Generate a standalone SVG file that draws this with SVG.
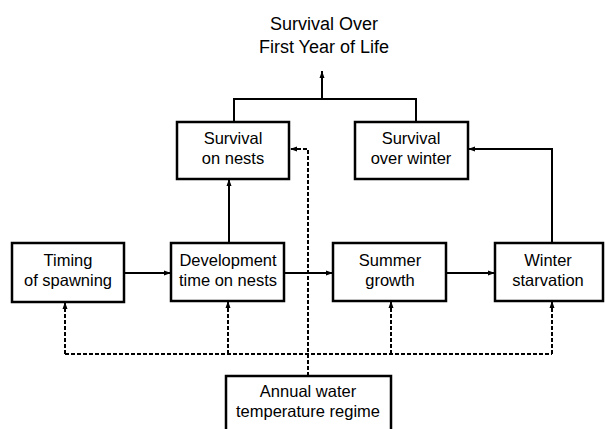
<svg xmlns="http://www.w3.org/2000/svg" width="605" height="429" viewBox="0 0 605 429">
<defs>
<marker id="ah" markerUnits="userSpaceOnUse" markerWidth="8" markerHeight="6" refX="7" refY="3" orient="auto">
<path d="M0,0.5 L7,3 L0,5.5 Z" fill="#000"/>
</marker>
<style>
.box{fill:#fff;stroke:#000;stroke-width:2.5}
.t{font-family:"Liberation Sans",Arial,sans-serif;font-size:16.5px;fill:#000;text-anchor:middle}
.title{font-family:"Liberation Sans",Arial,sans-serif;font-size:18px;fill:#000;text-anchor:middle}
.ln{fill:none;stroke:#000;stroke-width:2}
.ds{fill:none;stroke:#000;stroke-width:2;stroke-dasharray:4 2}
</style>
</defs>
<rect width="605" height="429" fill="#fff"/>
<g id="title">
<text class="title" x="324" y="30">Survival Over</text>
<text class="title" x="324" y="53">First Year of Life</text>
</g>
<g id="connectors">
<path class="ln" d="M124,273 H171" marker-end="url(#ah)"/>
<path class="ln" d="M284,273 H333" marker-end="url(#ah)"/>
<path class="ln" d="M446,273 H495" marker-end="url(#ah)"/>
<path class="ln" d="M229,243 V179" marker-end="url(#ah)"/>
<path class="ln" d="M552,243 V149 H468" marker-end="url(#ah)"/>
<path class="ln" d="M234,122 V99 H416 V122"/>
<path class="ln" d="M322,99 V71" marker-end="url(#ah)"/>
<path class="ds" d="M65,354 H552"/>
<path class="ds" d="M65,354 V302" marker-end="url(#ah)"/>
<path class="ds" d="M228,354 V301" marker-end="url(#ah)"/>
<path class="ds" d="M391,354 V301" marker-end="url(#ah)"/>
<path class="ds" d="M552,354 V301" marker-end="url(#ah)"/>
<path class="ds" d="M308,376 V149 H290" marker-end="url(#ah)"/>
</g>
<g id="survival-nests">
<rect class="box" x="177" y="122" width="112" height="57"/>
<text class="t" x="233" y="144">Survival</text>
<text class="t" x="233" y="164">on nests</text>
</g>
<g id="survival-winter">
<rect class="box" x="355" y="122" width="113" height="57"/>
<text class="t" x="411" y="144">Survival</text>
<text class="t" x="411" y="164">over winter</text>
</g>
<g id="timing">
<rect class="box" x="12" y="243" width="112" height="59"/>
<text class="t" x="68" y="266">Timing</text>
<text class="t" x="68" y="286">of spawning</text>
</g>
<g id="development">
<rect class="box" x="171" y="243" width="113" height="58"/>
<text class="t" x="228" y="266">Development</text>
<text class="t" x="228" y="286">time on nests</text>
</g>
<g id="summer">
<rect class="box" x="333" y="243" width="113" height="58"/>
<text class="t" x="390" y="266">Summer</text>
<text class="t" x="390" y="286">growth</text>
</g>
<g id="winter">
<rect class="box" x="495" y="243" width="108" height="58"/>
<text class="t" x="548" y="266">Winter</text>
<text class="t" x="548" y="286">starvation</text>
</g>
<g id="annual">
<rect class="box" x="226" y="376" width="165" height="60"/>
<text class="t" x="308" y="397">Annual water</text>
<text class="t" x="308" y="417">temperature regime</text>
</g>
</svg>
